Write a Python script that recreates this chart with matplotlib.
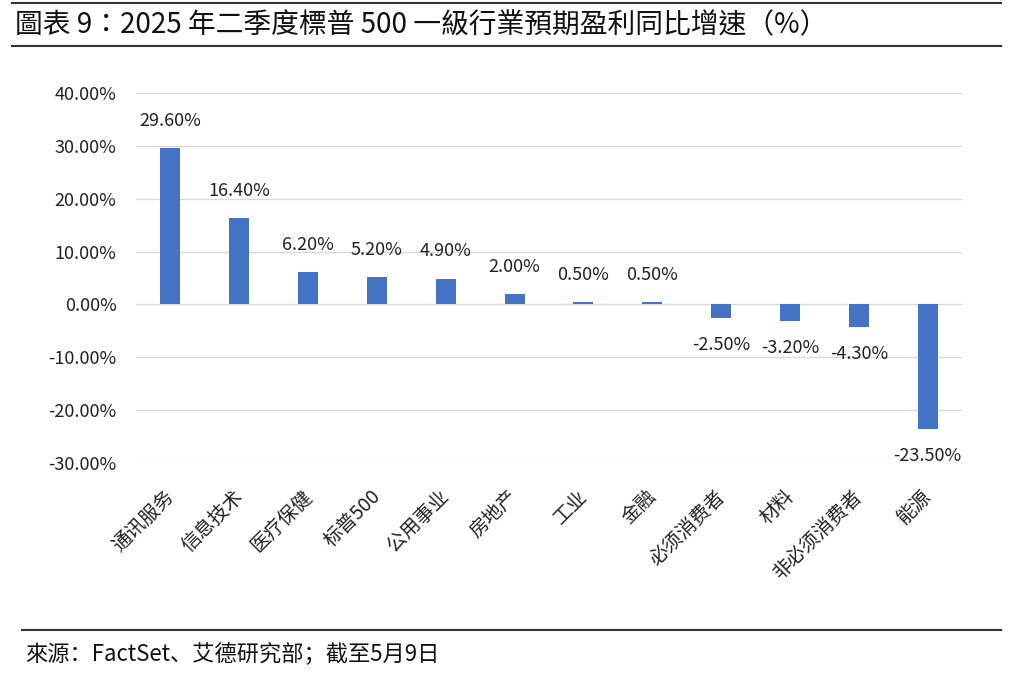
import matplotlib.pyplot as plt
import matplotlib.transforms as mtransforms
import numpy as np

plt.rcParams['font.family'] = ['Noto Sans CJK SC', 'DejaVu Sans']

categories = ['通讯服务', '信息技术', '医疗保健', '标普500', '公用事业', '房地产',
              '工业', '金融', '必须消费者', '材料', '非必须消费者', '能源']
growth = [29.6, 16.4, 6.2, 5.2, 4.9, 2.0, 0.5, 0.5, -2.5, -3.2, -4.3, -23.5]
y_ticks = [40, 30, 20, 10, 0, -10, -20, -30]

title = '圖表 9：2025 年二季度標普 500 一級行業預期盈利同比增速（%）'
source = '來源：FactSet、艾德研究部；截至5月9日'

fig = plt.figure(figsize=(10.13, 6.78), dpi=100)
ax = fig.add_axes([0.1343, 0.3171, 0.8154, 0.5457])

x = np.arange(len(categories))
bars = ax.bar(x, growth, width=0.29, color='#4472C4', zorder=3)

ax.set_ylim(-30, 40)
ax.set_xlim(-0.5, len(categories) - 0.5)
ax.set_yticks(y_ticks)
ax.set_yticklabels(['%.2f%%' % v for v in y_ticks], fontsize=13, color='#222222')
ax.yaxis.grid(True, color='#D9D9D9', linewidth=1, zorder=0)
ax.tick_params(axis='y', length=0, pad=14)
ax.tick_params(axis='x', length=0, pad=10)
ax.set_xticks(x)
ax.set_xticklabels(categories, rotation=45, ha='right', rotation_mode='anchor',
                   fontsize=14, color='#222222')
# nudge the rotated labels down-left a little
shift = mtransforms.ScaledTranslation(-7 / 100, -9 / 100, fig.dpi_scale_trans)
for lab in ax.get_xticklabels():
    lab.set_transform(lab.get_transform() + shift)
for s in ax.spines.values():
    s.set_visible(False)

for xi, v in zip(x, growth):
    if v >= 0:
        ax.annotate('%.2f%%' % v, (xi, v), xytext=(0, 13), textcoords='offset points',
                    ha='center', va='bottom', fontsize=13, color='#222222')
    else:
        ax.annotate('%.2f%%' % v, (xi, v), xytext=(0, -13), textcoords='offset points',
                    ha='center', va='top', fontsize=13, color='#222222')

# header / footer
fig.add_artist(plt.Line2D([0.012, 0.988], [0.995, 0.995], color='#333333', linewidth=1.5))
fig.text(0.015, 0.963, title, fontsize=20, va='center', ha='left', color='#111111',
         family=['Noto Sans CJK TC', 'DejaVu Sans'])
fig.add_artist(plt.Line2D([0.012, 0.988], [0.932, 0.932], color='#333333', linewidth=1.5))
fig.add_artist(plt.Line2D([0.022, 0.988], [0.071, 0.071], color='#333333', linewidth=1.5))
fig.text(0.025, 0.034, source, fontsize=16, va='center', ha='left', color='#111111')

fig.savefig('out.png', dpi=100)
